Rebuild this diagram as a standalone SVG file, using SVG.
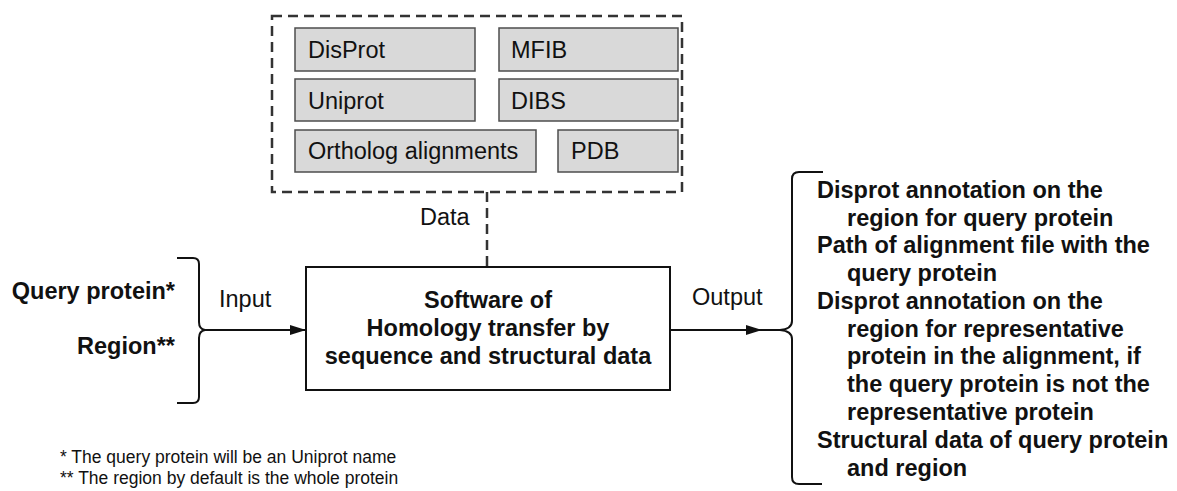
<svg xmlns="http://www.w3.org/2000/svg" width="1177" height="491" viewBox="0 0 1177 491">
  <style>
    text { font-family: "Liberation Sans", Arial, sans-serif; fill: #111; }
    .lbl { font-size: 23.5px; }
    .b { font-weight: bold; }
    .note { font-size: 17.5px; }
    .db { fill: #d9d9d9; stroke: #4d4d4d; stroke-width: 1.5; }
    .dash { fill: none; stroke: #333; stroke-width: 2.5; stroke-dasharray: 10 6; }
    .line { fill: none; stroke: #111; stroke-width: 2; }
  </style>
  <defs>
    <marker id="arrow" markerWidth="16" markerHeight="10" refX="16" refY="5" orient="auto" markerUnits="userSpaceOnUse">
      <path d="M0,0 L16,5 L0,10 Z" fill="#111"/>
    </marker>
  </defs>

  <g id="data-sources">
    <rect class="dash" x="272" y="16" width="410" height="176"/>
    <g id="disprot"><rect class="db" x="295" y="28" width="180" height="43"/><text class="lbl" x="308" y="58">DisProt</text></g>
    <g id="mfib"><rect class="db" x="499" y="28" width="179" height="43"/><text class="lbl" x="511" y="58">MFIB</text></g>
    <g id="uniprot"><rect class="db" x="295" y="79" width="180" height="42"/><text class="lbl" x="308" y="109">Uniprot</text></g>
    <g id="dibs"><rect class="db" x="499" y="79" width="179" height="42"/><text class="lbl" x="511" y="109">DIBS</text></g>
    <g id="ortholog"><rect class="db" x="295" y="130" width="241" height="42"/><text class="lbl" x="308" y="159">Ortholog alignments</text></g>
    <g id="pdb"><rect class="db" x="558" y="130" width="120" height="42"/><text class="lbl" x="571" y="159">PDB</text></g>
  </g>

  <g id="software">
    <rect x="306" y="267" width="364" height="123" fill="#fff" stroke="#111" stroke-width="2"/>
    <text class="lbl b" text-anchor="middle" x="488" y="308">Software of</text>
    <text class="lbl b" text-anchor="middle" x="488" y="336">Homology transfer by</text>
    <text class="lbl b" text-anchor="middle" x="488" y="364">sequence and structural data</text>
  </g>

  <g id="inputs">
    <text class="lbl b" text-anchor="end" x="175" y="299">Query protein*</text>
    <text class="lbl b" text-anchor="end" x="175" y="354">Region**</text>
  </g>

  <g id="outputs">
    <text class="lbl b" x="817" y="198">Disprot annotation on the</text>
    <text class="lbl b" x="847" y="226">region for query protein</text>
    <text class="lbl b" x="817" y="253">Path of alignment file with the</text>
    <text class="lbl b" x="847" y="281">query protein</text>
    <text class="lbl b" x="817" y="309">Disprot annotation on the</text>
    <text class="lbl b" x="847" y="337">region for representative</text>
    <text class="lbl b" x="847" y="364">protein in the alignment, if</text>
    <text class="lbl b" x="847" y="392">the query protein is not the</text>
    <text class="lbl b" x="847" y="420">representative protein</text>
    <text class="lbl b" x="817" y="448">Structural data of query protein</text>
    <text class="lbl b" x="847" y="476">and region</text>
  </g>

  <g id="footnotes">
    <text class="note" x="60" y="463">* The query protein will be an Uniprot name</text>
    <text class="note" x="60" y="484">** The region by default is the whole protein</text>
  </g>

  <g id="connectors">
    <path class="dash" d="M487,192 V267"/>
    <text class="lbl" x="420" y="225">Data</text>
    <path class="line" d="M177,258 H193 Q199,258 199,264 V322 Q199,329 205,330 Q199,331 199,338 V397 Q199,403 193,403 H177"/>
    <path class="line" d="M205,330 H306" marker-end="url(#arrow)"/>
    <text class="lbl" x="219" y="307">Input</text>
    <path class="line" d="M670,330 H762" marker-end="url(#arrow)"/>
    <text class="lbl" x="692" y="305">Output</text>
    <path class="line" d="M823,172 H799 Q792,172 792,179 V321 Q792,329 780,330 H762 M780,330 Q792,331 792,339 V477 Q792,484 799,484 H822"/>
  </g>
</svg>
